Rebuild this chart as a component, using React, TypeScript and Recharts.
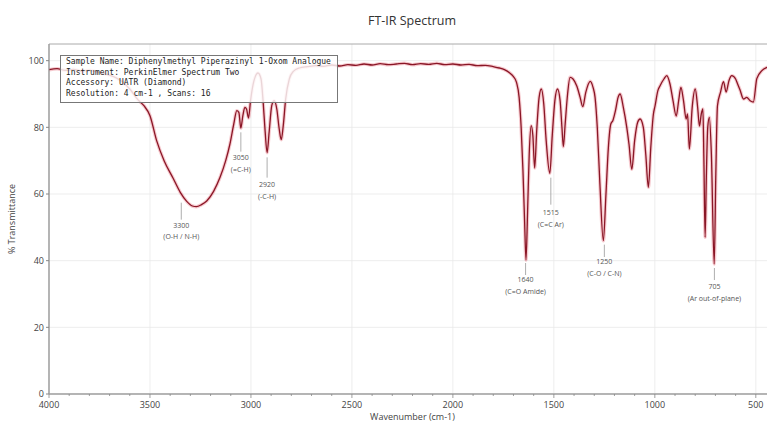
import {
  LineChart,
  Line,
  XAxis,
  YAxis,
  CartesianGrid,
  ReferenceArea,
  ReferenceLine,
  ReferenceDot,
  Label,
} from "recharts";

// wavenumber (cm-1) / % transmittance
const wavenumbers = [
  4000, 3960, 3920, 3880, 3840, 3800, 3760, 3720, 3680, 3640,
  3600, 3560, 3530, 3500, 3467, 3430, 3386, 3350, 3318, 3290,
  3270, 3245, 3219, 3185, 3153, 3125, 3104, 3085, 3070, 3060,
  3050, 3040, 3030, 3022, 3012, 3002, 2985, 2965, 2950, 2940,
  2930, 2920, 2910, 2897, 2885, 2872, 2860, 2850, 2840, 2828,
  2810, 2790, 2760, 2720, 2680, 2640, 2600, 2560, 2520, 2480,
  2440, 2400, 2360, 2320, 2280, 2240, 2200, 2160, 2120, 2080,
  2040, 2000, 1960, 1920, 1880, 1840, 1800, 1770, 1745, 1720,
  1700, 1685, 1672, 1662, 1653, 1645, 1638, 1630, 1622, 1612,
  1604, 1595, 1585, 1573, 1562, 1550, 1538, 1520, 1508, 1495,
  1482, 1469, 1460, 1453, 1444, 1432, 1420, 1405, 1386, 1370,
  1357, 1342, 1320, 1306, 1296, 1285, 1272, 1255, 1242, 1230,
  1218, 1208, 1195, 1182, 1172, 1156, 1139, 1128, 1114, 1100,
  1085, 1073, 1057, 1045, 1032, 1020, 1007, 999, 985, 974,
  955, 941, 925, 910, 894, 882, 871, 858, 845, 838,
  829, 815, 800, 788, 779, 770, 762, 757, 751, 745,
  738, 730, 720, 706, 698, 690, 675, 660, 647, 633,
  619, 600, 590, 578, 561, 545, 528, 512, 495, 470,
  444, 420, 400,
];

const transmittance = [
  97.3, 97.6, 97.1, 97.4, 96.9, 97.1, 96.6, 96.0, 95.2, 93.8,
  91.5, 88.3, 86.5, 83.5, 76.0, 70.0, 64.8, 60.5, 57.8, 56.4,
  56.2, 56.8, 57.9, 60.8, 65.0, 70.0, 75.0, 81.0, 85.0, 84.5,
  79.8, 83.5, 86.0, 85.5, 82.8, 88.0, 94.0, 96.3, 94.5, 88.0,
  79.0, 72.4, 78.5, 86.5, 88.0, 85.5, 79.5, 76.3, 80.5, 88.5,
  94.5, 96.8, 97.8, 98.2, 98.5, 98.3, 98.7, 98.4, 98.8, 98.6,
  99.0, 98.7, 99.1, 98.8, 99.0, 99.2, 98.8, 99.1, 98.9, 99.2,
  98.8, 99.0, 98.7, 98.9, 98.5, 98.6, 98.2, 97.8, 97.3, 96.4,
  95.2, 93.5, 89.0, 80.0, 67.0, 52.0, 40.2, 55.0, 72.0, 80.5,
  77.5, 67.8, 79.0, 89.0, 91.5, 87.0, 76.0, 66.2, 77.5, 88.0,
  91.5, 88.0, 80.0, 74.2, 81.0, 90.0, 95.0, 94.5, 92.3, 89.0,
  86.2, 90.5, 93.8, 92.0, 89.0, 80.0, 63.0, 46.0, 60.0, 74.0,
  81.0, 82.0, 85.0, 89.0, 90.0, 86.0, 80.0, 75.0, 67.4, 76.0,
  81.5, 82.5, 80.0, 72.0, 62.0, 74.0, 84.0, 86.4, 91.0, 92.5,
  94.5, 95.5, 93.0, 88.0, 83.4, 88.0, 92.0, 88.0, 82.5, 84.0,
  73.5, 86.0, 91.5, 86.0, 80.4, 84.0, 85.5, 70.0, 47.0, 65.0,
  80.0, 83.0, 72.0, 39.0, 66.0, 86.4, 90.5, 93.7, 90.6, 94.0,
  95.5, 94.5, 93.0, 91.2, 88.5, 89.0, 88.0, 87.6, 94.6, 97.0,
  98.0, 98.4, 98.2,
];

const xMajorTicks = [4000, 3500, 3000, 2500, 2000, 1500, 1000, 500];
const yTicks = [0, 20, 40, 60, 80, 100];

// peak annotations
const peakCodes = ["3300", "3050", "2920", "1640", "1515", "1250", "705"];
const peakGroups = [
  "(O-H / N-H)",
  "(=C-H)",
  "(-C-H)",
  "(C=O Amide)",
  "(C=C Ar)",
  "(C-O / C-N)",
  "(Ar out-of-plane)",
];

const infoLines = [
  "Sample Name: Diphenylmethyl Piperazinyl 1-Oxom Analogue",
  "Instrument: PerkinElmer Spectrum Two",
  "Accessory: UATR (Diamond)",
  "Resolution: 4 cm-1 , Scans: 16",
];

// where each annotation sits (x in cm-1, leader line and text in % units)
const annotationLayout = [
  { x: 3345, lineTop: 57.4, lineBottom: 52.3, textY: 50.6 },
  { x: 3050, lineTop: 78.5, lineBottom: 72.7, textY: 70.9 },
  { x: 2920, lineTop: 71.0, lineBottom: 64.9, textY: 62.8 },
  { x: 1640, lineTop: 39.3, lineBottom: 35.7, textY: 34.2 },
  { x: 1515, lineTop: 64.9, lineBottom: 56.8, textY: 54.4 },
  { x: 1250, lineTop: 44.8, lineBottom: 41.1, textY: 39.6 },
  { x: 705, lineTop: 37.8, lineBottom: 34.2, textY: 32.1 },
];

const data = wavenumbers.map((w, i) => ({ w, t: transmittance[i] }));

const allXTicks: number[] = [];
for (let v = 4000; v >= 400; v -= 100) allXTicks.push(v);

const FONT = "'Open Sans', 'DejaVu Sans', sans-serif";

const XTick = (props: any) => {
  const { x, y, payload } = props;
  const major = payload.value % 500 === 0;
  return (
    <g>
      <line x1={x} x2={x} y1={y} y2={y + (major ? 4 : 2)} stroke="#888" strokeWidth={0.8} />
      {major && (
        <text x={x} y={y + 14} textAnchor="middle" fontSize={9} fill="#444" fontFamily={FONT}>
          {payload.value}
        </text>
      )}
    </g>
  );
};

const App = () => {
  return (
    <div
      style={{
        position: "absolute",
        left: 0,
        top: 0,
        width: 767,
        height: 421,
        overflow: "hidden",
        background: "#fff",
      }}
    >
      <div
        style={{
          position: "absolute",
          left: 0,
          width: 824,
          top: 12,
          textAlign: "center",
          fontFamily: FONT,
          fontSize: 12.5,
          color: "#333",
        }}
      >
        FT-IR Spectrum
      </div>
      <LineChart
        width={800}
        height={421}
        data={data}
        margin={{ top: 44, right: 24, left: 0, bottom: 0 }}
      >
        <CartesianGrid
          stroke="#e8e8e8"
          strokeWidth={0.8}
          verticalValues={xMajorTicks}
          horizontalValues={yTicks}
        />
        <XAxis
          dataKey="w"
          type="number"
          domain={[400, 4000]}
          reversed
          ticks={allXTicks}
          interval={0}
          tick={<XTick />}
          tickLine={false}
          tickSize={0}
          tickMargin={0}
          axisLine={{ stroke: "#999" }}
          height={27}
          allowDataOverflow
        >
          <Label
            value="Wavenumber (cm-1)"
            position="insideBottom"
            offset={1}
            style={{ fontSize: 9, fill: "#444", fontFamily: FONT }}
          />
        </XAxis>
        <YAxis
          type="number"
          domain={[0, 105]}
          ticks={yTicks}
          width={49}
          tickSize={3}
          tickMargin={2}
          tick={{ fontSize: 9, fill: "#444", fontFamily: FONT }}
          tickLine={{ stroke: "#888" }}
          axisLine={{ stroke: "#999" }}
          allowDataOverflow
        >
          <Label
            value="% Transmittance"
            angle={-90}
            position="insideLeft"
            offset={12}
            style={{ fontSize: 9, fill: "#444", fontFamily: FONT, textAnchor: "middle" }}
          />
        </YAxis>
        <ReferenceArea x1={400} x2={4000} y1={0} y2={105} fill="none" stroke="#aaa" strokeWidth={1} />
        {annotationLayout.map((a, i) => (
          <ReferenceLine
            key={"l" + i}
            segment={[
              { x: a.x, y: a.lineTop },
              { x: a.x, y: a.lineBottom },
            ]}
            stroke="#999"
            strokeWidth={0.8}
          />
        ))}
        {annotationLayout.map((a, i) => (
          <ReferenceDot
            key={"d" + i}
            x={a.x}
            y={a.textY}
            r={0}
            shape={(p: any) => (
              <g>
                <text x={p.cx} y={p.cy} dy="0.35em" textAnchor="middle" fontSize={7} fill="#555" fontFamily={FONT}>
                  {peakCodes[i]}
                </text>
                <text x={p.cx} y={p.cy + 11.5} dy="0.35em" textAnchor="middle" fontSize={7} fill="#555" fontFamily={FONT}>
                  {peakGroups[i]}
                </text>
              </g>
            )}
          />
        ))}
        <Line
          type="monotone"
          dataKey="t"
          stroke="#e0505f"
          strokeOpacity={0.3}
          strokeWidth={3.5}
          dot={false}
          isAnimationActive={false}
        />
        <Line
          type="monotone"
          dataKey="t"
          stroke="#8a1626"
          strokeWidth={1.3}
          dot={false}
          isAnimationActive={false}
        />
      </LineChart>
      <div
        style={{
          position: "absolute",
          left: 60,
          top: 55,
          width: 278,
          height: 48,
          boxSizing: "border-box",
          border: "1px solid #777",
          background: "rgba(255,255,255,0.82)",
          padding: "1px 5px",
          fontFamily: "'DejaVu Sans Mono', monospace",
          fontSize: 8,
          lineHeight: "10.5px",
          color: "#222",
          whiteSpace: "pre",
          overflow: "hidden",
        }}
      >
        {infoLines.map((s, i) => (
          <div key={i}>{s}</div>
        ))}
      </div>
    </div>
  );
};

export default App;
